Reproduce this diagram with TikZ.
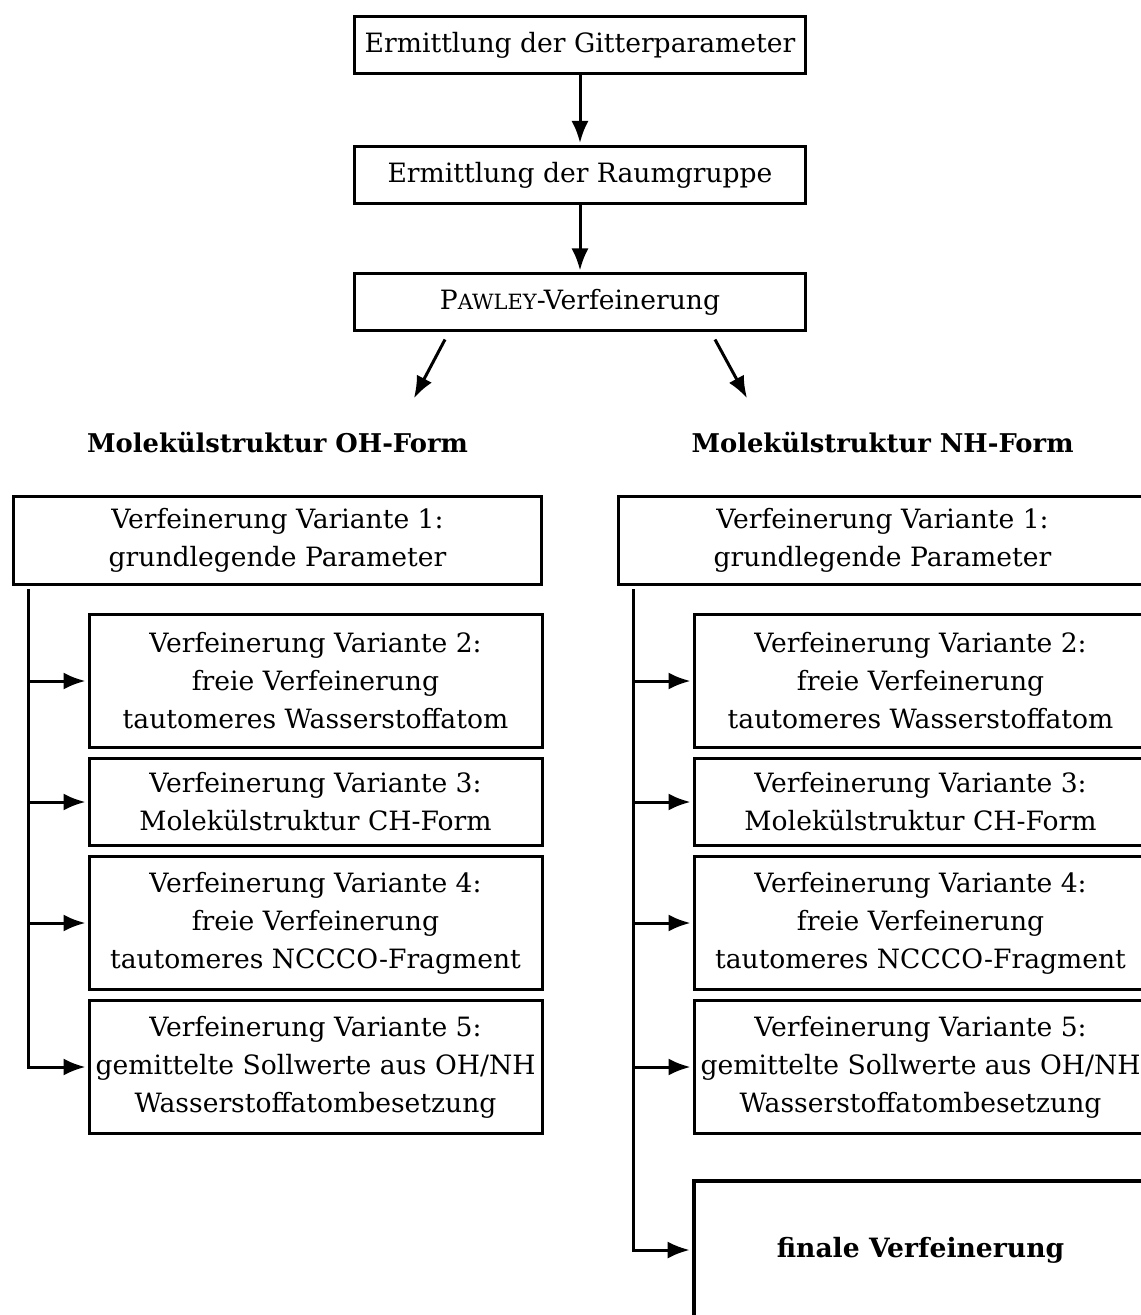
\documentclass[tikz,border=0pt]{standalone}
\usepackage{fontspec}
\setmainfont{DejaVu Serif}
\usetikzlibrary{positioning,arrows.meta,calc}

\begin{document}
\begin{tikzpicture}[
    x=0.5pt, y=-0.5pt,
    font=\fontsize{13.3}{19}\selectfont,
    box/.style={draw, line width=1.5pt, minimum width=225.5pt, minimum height=28.5pt,
                align=center, inner sep=0pt},
    wide/.style={draw, line width=1.5pt, minimum width=264pt, minimum height=44pt,
                 align=center, inner sep=0pt},
    sub/.style={draw, line width=1.5pt, minimum width=226.5pt, minimum height=66.5pt,
                align=center, inner sep=0pt},
    final/.style={draw, line width=2.3pt, minimum width=226.5pt, minimum height=69pt,
                  align=center, font=\fontsize{13.3}{19}\selectfont\bfseries},
    head/.style={font=\fontsize{12.9}{15}\selectfont\bfseries},
    arr/.style={-{Latex[length=11pt, width=8.5pt]}, line width=1.5pt, shorten >=1pt}
]
\useasboundingbox (0,0) rectangle (1140,1315);
% Vorstufen
\node[box] (gitter) at (580,45) {Ermittlung der Gitterparameter};
\node[box] (raum) at (580,175) {Ermittlung der Raumgruppe};
\node[box] (pawley) at (580,302.5) {P{\fontsize{10.5}{19}\selectfont AWLEY}-Verfeinerung};
\node[head] (ohhead) at (277.5,443) {Molekülstruktur OH-Form};
\node[head] (nhhead) at (882.5,443) {Molekülstruktur NH-Form};
% OH-Form
\node[wide] (ohv1) at (277.5,540.5) {Verfeinerung Variante 1:\\grundlegende Parameter};
\node[sub] (ohv2) at (315.5,681) {Verfeinerung Variante 2:\\freie Verfeinerung\\tautomeres Wasserstoffatom};
\node[sub, minimum height=43.5pt] (ohv3) at (315.5,802) {Verfeinerung Variante 3:\\Molekülstruktur CH-Form};
\node[sub] (ohv4) at (315.5,923) {Verfeinerung Variante 4:\\freie Verfeinerung\\tautomeres NCCCO-Fragment};
\node[sub] (ohv5) at (315.5,1067) {Verfeinerung Variante 5:\\gemittelte Sollwerte aus OH/NH\\Wasserstoffatombesetzung};
% NH-Form
\node[wide] (nhv1) at (882.5,540.5) {Verfeinerung Variante 1:\\grundlegende Parameter};
\node[sub] (nhv2) at (920.5,681) {Verfeinerung Variante 2:\\freie Verfeinerung\\tautomeres Wasserstoffatom};
\node[sub, minimum height=43.5pt] (nhv3) at (920.5,802) {Verfeinerung Variante 3:\\Molekülstruktur CH-Form};
\node[sub] (nhv4) at (920.5,923) {Verfeinerung Variante 4:\\freie Verfeinerung\\tautomeres NCCCO-Fragment};
\node[sub] (nhv5) at (920.5,1067) {Verfeinerung Variante 5:\\gemittelte Sollwerte aus OH/NH\\Wasserstoffatombesetzung};
\node[final] (final) at (920.5,1250) {finale Verfeinerung};
\coordinate (ohtrunk) at ([xshift=8pt, yshift=-1.5pt]ohv1.south west);
\coordinate (nhtrunk) at ([xshift=8pt, yshift=-1.5pt]nhv1.south west);
% Pfeile
\draw[arr] (gitter) -- (raum);
\draw[arr] (raum) -- (pawley);
\draw[arr] ([xshift=-67.5pt, yshift=-3.5pt]pawley.south) -- ([xshift=67.75pt, yshift=21.5pt]ohhead.center);
\draw[arr] ([xshift=67.5pt, yshift=-3.5pt]pawley.south) -- ([xshift=-67.25pt, yshift=21.5pt]nhhead.center);
\draw[arr] (ohtrunk) |- (ohv5.west);
\draw[arr] (ohtrunk |- ohv2.west) -- (ohv2.west);
\draw[arr] (ohtrunk |- ohv3.west) -- (ohv3.west);
\draw[arr] (ohtrunk |- ohv4.west) -- (ohv4.west);
\draw[arr] (nhtrunk) |- (final.west);
\draw[arr] (nhtrunk |- nhv2.west) -- (nhv2.west);
\draw[arr] (nhtrunk |- nhv3.west) -- (nhv3.west);
\draw[arr] (nhtrunk |- nhv4.west) -- (nhv4.west);
\draw[arr] (nhtrunk |- nhv5.west) -- (nhv5.west);
\end{tikzpicture}
\end{document}
